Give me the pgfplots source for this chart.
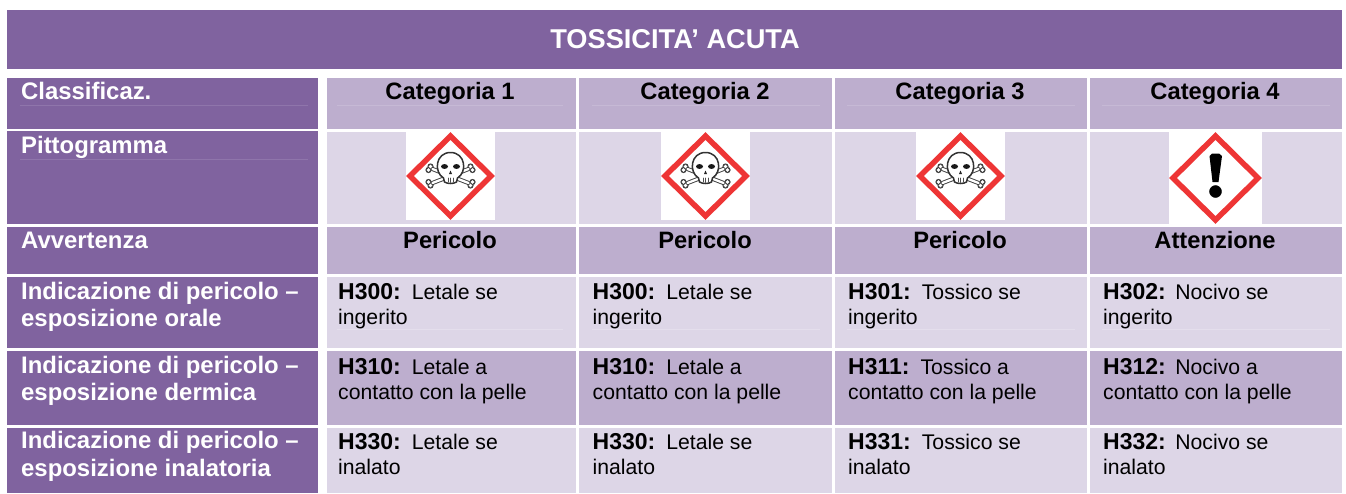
\documentclass[border=0pt]{standalone}
\usepackage{pgfplots}
\pgfplotsset{compat=1.18}
\usepackage{fontspec}
\setmainfont{Liberation Sans}
\definecolor{dk}{HTML}{80639F}
\definecolor{md}{HTML}{BDAECE}
\definecolor{lt}{HTML}{DDD6E7}
\definecolor{rd}{HTML}{EE3535}
\definecolor{ln}{HTML}{8F75AB}
\definecolor{lm}{HTML}{C6B9D5}
\definecolor{ll}{HTML}{E4DEEC}
\newcommand{\cell}[5]{\addplot[fill=#1,draw=none,forget plot] coordinates {(#2,#4)(#3,#4)(#3,#5)(#2,#5)} -- cycle;}
\newcommand{\rl}[4]{\addplot[draw=#1,line width=0.6pt,forget plot] coordinates {(#2,#4)(#3,#4)};}
\newcommand{\lab}[3]{\node[anchor=base west,inner sep=0pt,yshift=-1pt,text=white,font=\fontsize{23.9}{23.9}\selectfont\bfseries] at (axis cs:#1,#2) {#3};}
\newcommand{\head}[3]{\node[anchor=base,inner sep=0pt,yshift=-1pt,text=black,font=\fontsize{23.7}{23.7}\selectfont\bfseries] at (axis cs:#1,#2) {#3};}
\newcommand{\bod}[4]{%
\node[anchor=base west,inner sep=0pt,yshift=-1pt,text=black,font=\fontsize{21.2}{21.2}\selectfont] at (axis cs:#1,#2) {\textbf{\fontsize{23}{23}\selectfont #3}#4};}
\newcommand{\bodl}[3]{\node[anchor=base west,inner sep=0pt,yshift=-1pt,text=black,font=\fontsize{21.2}{21.2}\selectfont] at (axis cs:#1,#2) {#3};}
\newcommand{\bone}[1]{%
\draw[black!75,line width=4.2pt] (#118pt,-7pt) -- (-#118pt,7pt);
\fill[black!75] (#120pt,-9.5pt) circle (3.1pt) (#122pt,-6pt) circle (3.1pt) (-#120pt,9.5pt) circle (3.1pt) (-#122pt,6pt) circle (3.1pt);
\fill[white] (#120pt,-9.5pt) circle (1.9pt) (#122pt,-6pt) circle (1.9pt) (-#120pt,9.5pt) circle (1.9pt) (-#122pt,6pt) circle (1.9pt);
\draw[white,line width=2.3pt] (#118pt,-7pt) -- (-#118pt,7pt);}
\newcommand{\skull}[1]{%
\begin{scope}[shift={(axis cs:#1,176)},line cap=round]
\bone{+}\bone{-}
\filldraw[fill=white,draw=black!80,line width=1.5pt] (-7pt,-2pt) .. controls (-17pt,4pt) and (-15pt,23.5pt) .. (0pt,23.5pt) .. controls (15pt,23.5pt) and (17pt,4pt) .. (7pt,-2pt) -- (6pt,-6pt) .. controls (3pt,-8pt) and (-3pt,-8pt) .. (-6pt,-6pt) -- cycle;
\fill[black!90] (-6pt,9.5pt) ellipse (3.5pt and 2.4pt) (6pt,9.5pt) ellipse (3.5pt and 2.4pt);
\fill[black!85] (0pt,5.5pt) -- (-1.5pt,2pt) -- (1.5pt,2pt) -- cycle;
\draw[black!70,line width=0.7pt] (-2.5pt,-2pt) -- (-2.5pt,-6pt) (0pt,-2pt) -- (0pt,-6.5pt) (2.5pt,-2pt) -- (2.5pt,-6pt);
\end{scope}}
\newcommand{\dia}[6]{\addplot[draw=rd,fill=white,line width=5.5pt,line join=miter,forget plot] coordinates {(#1,#4)(#2,#5)(#3,#4)(#2,#6)} -- cycle;}
\begin{document}
\begin{tikzpicture}
\begin{axis}[scale only axis,width=1346pt,height=493pt,xmin=0,xmax=1346,ymin=0,ymax=493,y dir=reverse,axis lines=none,clip=false]
\cell{white}{0}{1346}{0}{493}
% title
\cell{dk}{7}{1342}{10}{69}
% left column
\cell{dk}{7}{318}{78}{129}
\cell{dk}{7}{318}{131}{224}
\cell{dk}{7}{318}{227}{274}
\cell{dk}{7}{318}{277}{348}
\cell{dk}{7}{318}{351}{425}
\cell{dk}{7}{318}{428}{493}
% body cells
\cell{md}{327}{576}{78}{129}\cell{md}{579}{832}{78}{129}\cell{md}{835}{1087}{78}{129}\cell{md}{1090}{1342}{78}{129}
\cell{lt}{327}{576}{132}{224}\cell{lt}{579}{832}{132}{224}\cell{lt}{835}{1087}{132}{224}\cell{lt}{1090}{1342}{132}{224}
\cell{md}{327}{576}{227}{274}\cell{md}{579}{832}{227}{274}\cell{md}{835}{1087}{227}{274}\cell{md}{1090}{1342}{227}{274}
\cell{lt}{327}{576}{277}{348}\cell{lt}{579}{832}{277}{348}\cell{lt}{835}{1087}{277}{348}\cell{lt}{1090}{1342}{277}{348}
\cell{md}{327}{576}{351}{425}\cell{md}{579}{832}{351}{425}\cell{md}{835}{1087}{351}{425}\cell{md}{1090}{1342}{351}{425}
\cell{lt}{327}{576}{428}{493}\cell{lt}{579}{832}{428}{493}\cell{lt}{835}{1087}{428}{493}\cell{lt}{1090}{1342}{428}{493}
% faint rules
\rl{ln}{20}{308}{105}\rl{ln}{20}{308}{159}
\rl{lm}{337}{563}{105}\rl{lm}{592}{820}{105}\rl{lm}{847}{1075}{105}\rl{lm}{1102}{1330}{105}
\rl{ll}{337}{563}{329}\rl{ll}{592}{820}{329}\rl{ll}{847}{1075}{329}\rl{ll}{1102}{1330}{329}
% title text
\node[anchor=base,inner sep=0pt,text=white,font=\fontsize{27.2}{27.2}\selectfont\bfseries] at (axis cs:675,48) {TOSSICITA’ ACUTA};
% left labels
\lab{21}{98}{Classificaz.}
\lab{21}{152}{Pittogramma}
\lab{21}{247}{Avvertenza}
\lab{21}{298}{Indicazione di pericolo –}
\lab{21}{325}{esposizione orale}
\lab{21}{372}{Indicazione di pericolo –}
\lab{21}{399}{esposizione dermica}
\lab{21}{447}{Indicazione di pericolo –}
\lab{21}{475}{esposizione inalatoria}
% headers
\head{450}{98}{Categoria 1}\head{705}{98}{Categoria 2}\head{960}{98}{Categoria 3}\head{1215}{98}{Categoria 4}
\head{450}{247}{Pericolo}\head{705}{247}{Pericolo}\head{960}{247}{Pericolo}\head{1215}{247}{Attenzione}
% pictograms
\cell{white}{406}{495}{132}{220}\dia{410}{450.5}{491}{176}{136}{216}\skull{450.5}
\cell{white}{661}{750}{132}{220}\dia{665}{705.5}{746}{176}{136}{216}\skull{705.5}
\cell{white}{916}{1005}{132}{220}\dia{920}{960.5}{1001}{176}{136}{216}\skull{960.5}
\cell{white}{1169}{1262}{132}{224}\dia{1173}{1215.5}{1258}{178}{136}{220}
\addplot[fill=black,draw=none,forget plot] coordinates {(1209.5,156)(1212,153.5)(1219,153.5)(1222,156)(1218.5,182)(1212.5,182)} -- cycle;
\addplot[only marks,mark=*,mark size=6pt,black,forget plot] coordinates {(1215.5,191.5)};
% body
\bod{338}{298}{H300:}{\hspace{11pt}Letale se}
\bod{592.5}{298}{H300:}{\hspace{11pt}Letale se}
\bod{848}{298}{H301:}{\hspace{11pt}Tossico se}
\bod{1103}{298}{H302:}{\hspace{9.5pt}Nocivo se}
\bodl{338}{323}{ingerito}\bodl{592.5}{323}{ingerito}\bodl{848}{323}{ingerito}\bodl{1103}{323}{ingerito}
\bod{338}{373}{H310:}{\hspace{11pt}Letale a}
\bod{592.5}{373}{H310:}{\hspace{11pt}Letale a}
\bod{848}{373}{H311:}{\hspace{11pt}Tossico a}
\bod{1103}{373}{H312:}{\hspace{9.5pt}Nocivo a}
\bodl{338}{398}{contatto con la pelle}\bodl{592.5}{398}{contatto con la pelle}\bodl{848}{398}{contatto con la pelle}\bodl{1103}{398}{contatto con la pelle}
\bod{338}{448}{H330:}{\hspace{11pt}Letale se}
\bod{592.5}{448}{H330:}{\hspace{11pt}Letale se}
\bod{848}{448}{H331:}{\hspace{11pt}Tossico se}
\bod{1103}{448}{H332:}{\hspace{9.5pt}Nocivo se}
\bodl{338}{473}{inalato}\bodl{592.5}{473}{inalato}\bodl{848}{473}{inalato}\bodl{1103}{473}{inalato}
\end{axis}
\end{tikzpicture}
\end{document}
